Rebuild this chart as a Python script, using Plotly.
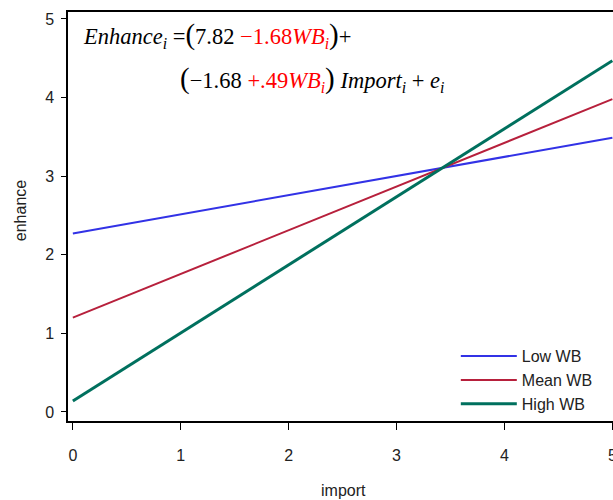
import plotly.graph_objects as go

# Data
import_x = [0, 5]
low_wb = [2.27, 3.49]
mean_wb = [1.20, 3.98]
high_wb = [0.14, 4.47]
series_names = ["Low WB", "Mean WB", "High WB"]
x_ticks = [0, 1, 2, 3, 4, 5]
y_ticks = [0, 1, 2, 3, 4, 5]

colors = ["#3232e6", "#b7203c", "#00705e"]
widths = [2, 2, 3]

fig = go.Figure()
for name, ys, c, w in zip(series_names, [low_wb, mean_wb, high_wb], colors, widths):
    fig.add_trace(go.Scatter(x=import_x, y=ys, mode="lines", name=name,
                             line=dict(color=c, width=w)))

tickfont = dict(family="Liberation Sans, Arial", size=16, color="#222")

# The original chart is cropped on its right side: the figure is drawn wider
# than the 613px window and the overflow is hidden.
fig.update_layout(
    width=640, height=500,
    margin=dict(l=68, r=0, t=12, b=79),
    plot_bgcolor="white", paper_bgcolor="white",
    showlegend=True,
    legend=dict(x=0.678, y=0.20, xanchor="left", yanchor="top",
                font=dict(family="Liberation Sans, Arial", size=16, color="#222"),
                bgcolor="rgba(0,0,0,0)", tracegroupgap=0, itemwidth=56),
    xaxis=dict(range=[-0.045, 5.256], tickvals=x_ticks, showgrid=False, zeroline=False,
               showline=True, linecolor="black", linewidth=1.5, mirror=True,
               ticks="outside", ticklen=7, tickcolor="black", tickwidth=1.2,
               tickfont=tickfont, ticklabelstandoff=12, ticklabeloverflow="allow"),
    yaxis=dict(range=[-0.115, 5.089], tickvals=y_ticks, showgrid=False, zeroline=False,
               showline=True, linecolor="black", linewidth=1.5, mirror=False,
               ticks="outside", ticklen=5, tickcolor="black", tickwidth=1.2,
               tickfont=tickfont, ticklabelstandoff=4),
)

eqfont = dict(family="Liberation Serif, Times New Roman", size=22.5, color="black")
P = "<span style='font-size:29px'>%s</span>"
line1 = ("<i>Enhance</i><sub><i>i</i></sub> =" + P % "(" + "7.82 "
         + "<span style='color:#ff0000'>−1.68<i>WB</i><sub><i>i</i></sub></span>"
         + P % ")" + "+")
line2 = (P % "(" + "−1.68 "
         + "<span style='color:#ff0000'>+.49<i>WB</i><sub><i>i</i></sub></span>"
         + P % ")" + " <i>Import</i><sub><i>i</i></sub> + <i>e</i><sub><i>i</i></sub>")

fig.add_annotation(text=line1, xref="paper", yref="paper", x=0.0227, y=0.943,
                   xanchor="left", yanchor="middle", showarrow=False, font=eqfont)
fig.add_annotation(text=line2, xref="paper", yref="paper", x=0.1925, y=0.835,
                   xanchor="left", yanchor="middle", showarrow=False, font=eqfont)

titlefont = dict(family="Liberation Sans, Arial", size=16, color="#222")
fig.add_annotation(text="import", xref="paper", yref="paper", x=0.4808, y=-0.169,
                   xanchor="center", yanchor="middle", showarrow=False, font=titlefont)
fig.add_annotation(text="enhance", xref="paper", yref="paper", x=-0.0839, y=0.513,
                   xanchor="center", yanchor="middle", showarrow=False, textangle=-90,
                   font=titlefont)

# remove the page's default 8px body margin so the figure fills the window
fig.write_html("out.html", config={"displayModeBar": False},
               post_script="document.body.style.margin='0';document.body.style.overflow='hidden';")
